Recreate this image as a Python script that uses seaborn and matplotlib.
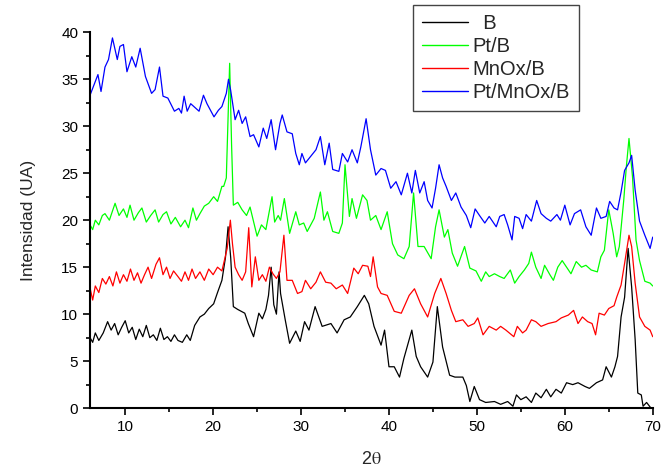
"""
XRD patterns of the B, Pt/B, MnOx/B and Pt/MnOx/B samples
"""

import matplotlib
matplotlib.use("Agg")
import matplotlib.pyplot as plt
from matplotlib.ticker import MultipleLocator
import seaborn as sns
import pandas as pd

# values (2theta, intensity)
b_x = [6.0, 6.3, 6.6, 7.0, 7.5, 8.0, 8.4, 8.8, 9.2, 9.6, 10.0, 10.4, 10.8, 11.2, 11.6,
       12.0, 12.4, 12.8, 13.2, 13.6, 14.0, 14.4, 14.8, 15.2, 15.6, 16.0, 16.5, 17.0,
       17.4, 17.9, 18.5, 19.0, 19.5, 20.06, 20.5, 21.0, 21.4, 21.7, 22.0, 22.3, 22.8,
       23.6, 24.0, 24.6, 25.2, 25.6, 26.0, 26.3, 26.6, 26.9, 27.2, 27.5, 27.67, 28.2,
       28.7, 29.4, 29.9, 30.4, 30.9, 31.6, 32.4, 33.4, 34.1, 34.9, 35.6, 36.4, 37.2,
       37.7, 38.3, 39.1, 39.5, 40.0, 40.6, 41.2, 41.7, 42.6, 43.1, 43.6, 44.4, 45.0,
       45.5, 46.1, 46.9, 47.5, 48.4, 48.8, 49.2, 49.7, 50.3, 51.0, 52.0, 52.7, 53.5,
       54.1, 54.5, 55.0, 55.6, 56.2, 56.7, 57.3, 57.9, 58.4, 59.0, 59.6, 60.2, 60.9,
       61.5, 62.3, 62.8, 63.6, 64.3, 64.7, 65.3, 65.7, 66.0, 66.4, 66.8, 67.2, 67.6,
       68.0, 68.3, 68.7, 68.9, 69.3, 69.8]
b_y = [7.5, 7.0, 8.0, 7.2, 8.0, 9.2, 8.3, 9.0, 7.8, 8.6, 9.3, 8.0, 8.6, 7.3, 8.4,
       7.6, 8.8, 7.5, 7.8, 7.2, 8.5, 7.3, 7.6, 7.1, 7.8, 7.2, 7.0, 7.8,
       7.2, 8.8, 9.7, 10.0, 10.6, 11.1, 12.3, 13.6, 16.0, 19.3, 16.0, 10.8, 10.5,
       10.1, 9.0, 7.6, 10.1, 9.5, 10.5, 12.0, 15.0, 11.0, 10.0, 14.5, 12.2, 9.4,
       6.9, 8.2, 7.1, 9.2, 8.3, 10.8, 8.7, 9.0, 8.0, 9.4, 9.7, 10.8, 12.0,
       11.1, 8.7, 6.7, 8.3, 4.4, 4.4, 3.3, 5.3, 8.3, 5.5, 4.4, 3.3, 4.9,
       10.8, 6.5, 3.5, 3.3, 3.3, 2.4, 0.7, 2.3, 0.9, 0.6, 0.7, 0.4, 0.7,
       0.2, 1.4, 0.9, 1.2, 0.6, 1.6, 1.1, 2.0, 1.2, 2.0, 1.6, 2.7, 2.5,
       2.7, 2.3, 2.1, 2.7, 3.0, 4.4, 3.3, 4.4, 5.5, 9.7, 11.8, 17.0, 12.9,
       7.3, 1.6, 1.4, 0.2, 0.6, 0.0]

ptb_x = [6.0, 6.3, 6.6, 7.0, 7.4, 7.7, 8.2, 8.85, 9.3, 9.8, 10.2, 10.55, 11.0, 11.5,
         11.9, 12.4, 12.9, 13.4, 13.8, 14.3, 14.7, 15.2, 15.7, 16.3, 16.8, 17.2, 17.7,
         18.1, 18.5, 19.0, 19.5, 20.06, 20.5, 21.0, 21.2, 21.5, 21.88, 22.1, 22.3, 22.8,
         23.3, 23.8, 24.2, 25.0, 25.5, 26.0, 26.3, 26.7, 27.0, 27.4, 27.67, 28.1, 28.7,
         29.4, 29.8, 30.3, 30.7, 31.5, 32.2, 32.6, 33.0, 33.6, 34.3, 34.7, 35.0, 35.5,
         35.8, 36.3, 37.0, 37.5, 37.9, 38.5, 39.1, 39.8, 40.4, 41.0, 41.7, 42.3, 42.8,
         43.3, 44.0, 44.8, 45.3, 45.7, 46.3, 46.7, 47.2, 47.8, 48.6, 49.2, 49.9, 50.5,
         51.0, 51.4, 52.0, 52.6, 53.1, 53.8, 54.3, 54.8, 55.4, 55.9, 56.2, 56.7, 57.3,
         57.7, 58.3, 58.7, 59.2, 59.7, 60.2, 60.7, 61.3, 61.9, 62.4, 63.0, 63.7, 64.1,
         64.5, 65.0, 65.5, 65.9, 66.2, 66.7, 67.0, 67.3, 67.7, 68.1, 68.5, 69.1, 69.7,
         70.0]
ptb_y = [19.5, 19.0, 20.0, 19.5, 20.5, 20.7, 20.0, 21.8, 20.5, 21.2, 20.3, 21.6, 20.0, 20.8,
         21.3, 19.8, 20.5, 21.1, 19.8, 20.6, 20.9, 19.6, 20.3, 19.3, 20.0, 19.2, 21.3,
         20.0, 20.7, 21.5, 21.8, 22.5, 22.0, 23.6, 23.6, 24.5, 36.7, 28.0, 21.6, 21.9,
         21.1, 20.5, 21.4, 18.3, 19.5, 19.0, 20.5, 22.5, 19.8, 20.5, 20.0, 22.3, 18.6,
         20.9, 19.5, 19.7, 18.8, 20.2, 23.0, 20.0, 20.9, 18.8, 18.6, 19.7, 25.9, 20.4,
         22.3, 20.2, 22.7, 22.1, 20.0, 20.5, 19.0, 20.9, 17.5, 16.3, 15.9, 17.2, 22.9,
         17.2, 17.2, 15.9, 19.3, 21.1, 18.2, 19.0, 16.5, 15.1, 17.2, 14.9, 14.6, 13.5,
         14.5, 14.0, 14.3, 14.0, 13.8, 14.7, 13.3, 14.0, 14.7, 15.4, 16.6, 15.0, 13.8,
         15.2, 14.2, 13.6, 15.0, 15.7, 15.0, 14.3, 15.6, 15.0, 15.2, 14.7, 14.5, 16.1,
         16.8, 21.1, 18.6, 16.1, 17.2, 22.1, 25.7, 28.7, 24.6, 17.9, 15.7, 13.5, 13.3,
         13.0]

mnox_x = [6.0, 6.3, 6.6, 7.0, 7.4, 7.8, 8.2, 8.6, 9.0, 9.4, 9.8, 10.2, 10.6, 11.0,
          11.4, 11.8, 12.2, 12.6, 13.0, 13.5, 13.9, 14.3, 14.7, 15.1, 15.5, 16.0, 16.4,
          16.8, 17.2, 17.6, 18.0, 18.5, 19.0, 19.5, 20.0, 20.5, 21.0, 21.2, 21.6, 21.96,
          22.2, 22.5, 22.9, 23.3, 23.7, 24.05, 24.4, 24.8, 25.2, 25.6, 26.0, 26.4, 26.8,
          27.2, 27.6, 28.05, 28.4, 29.0, 29.6, 30.1, 30.5, 31.1, 31.7, 32.2, 32.8, 33.4,
          34.0, 34.7, 35.3, 36.0, 36.5, 37.0, 37.6, 37.9, 38.2, 38.7, 39.1, 39.8, 40.6,
          41.4, 42.3, 42.9, 43.6, 44.4, 45.2, 45.9, 46.5, 47.1, 47.6, 48.4, 49.0, 49.7,
          50.1, 50.7, 51.4, 52.2, 52.7, 53.3, 54.2, 54.6, 55.2, 55.6, 56.2, 56.7, 57.3,
          58.1, 59.0, 59.6, 60.4, 61.0, 61.5, 62.0, 62.6, 63.1, 63.5, 63.9, 64.5, 65.0,
          65.6, 65.9, 66.4, 66.8, 67.1, 67.3, 67.6, 68.0, 68.5, 69.1, 69.7, 70.0]
mnox_y = [12.8, 11.5, 13.0, 12.3, 13.8, 13.2, 14.0, 13.0, 14.5, 13.3, 14.2, 13.5, 14.8, 13.6,
          14.4, 13.3, 14.2, 15.0, 13.8, 15.3, 16.0, 14.2, 15.0, 13.8, 14.6, 14.0, 13.5,
          14.5, 13.6, 14.8, 13.8, 14.5, 13.6, 14.8, 14.2, 15.0, 14.6, 15.4, 17.0, 20.0,
          17.5, 15.0, 14.2, 13.6, 14.5, 19.2, 12.9, 16.1, 13.6, 14.2, 13.5, 15.0, 14.3,
          13.8, 14.5, 18.4, 13.6, 13.6, 12.2, 12.4, 13.6, 12.7, 13.4, 14.5, 13.4, 13.3,
          12.7, 13.1, 12.2, 14.9, 14.3, 15.2, 15.1, 14.0, 16.1, 12.9, 12.2, 12.0, 10.3,
          10.1, 12.0, 12.7, 11.1, 9.7, 12.2, 13.8, 12.2, 10.4, 9.2, 9.4, 8.7, 9.0,
          9.6, 7.8, 8.7, 8.3, 8.7, 8.3, 7.6, 8.7, 8.0, 8.3, 9.4, 9.2, 8.7,
          9.0, 9.2, 9.6, 9.9, 10.4, 9.0, 9.7, 9.2, 9.0, 7.8, 10.1, 9.9, 10.6,
          10.9, 11.8, 13.1, 15.4, 17.2, 18.4, 17.2, 13.3, 9.7, 8.7, 8.3, 7.6]

ptmnox_x = [6.0, 6.9, 7.25, 7.7, 8.1, 8.55, 9.1, 9.4, 9.8, 10.2, 10.75, 11.2, 11.7, 12.3,
            12.65, 13.0, 13.4, 13.9, 14.3, 14.85, 15.6, 16.1, 16.4, 16.7, 17.05, 17.45,
            18.4, 18.9, 19.3, 20.1, 20.6, 21.0, 21.5, 21.75, 22.0, 22.5, 22.9, 23.3, 23.7,
            24.2, 24.6, 25.2, 25.7, 26.1, 26.6, 27.1, 27.6, 27.86, 28.4, 29.0, 29.4, 29.8,
            30.1, 30.5, 31.1, 31.7, 32.2, 32.7, 33.2, 33.6, 34.3, 34.7, 35.3, 35.8, 36.4,
            36.8, 37.4, 37.9, 38.5, 39.1, 39.6, 40.2, 40.8, 41.4, 42.1, 42.6, 43.0, 43.5,
            44.0, 44.4, 44.9, 45.3, 45.7, 46.1, 46.5, 47.1, 47.6, 48.2, 48.8, 49.3, 49.8,
            50.3, 50.9, 51.4, 52.2, 52.6, 53.1, 53.5, 54.0, 54.3, 54.8, 55.2, 55.6, 56.2,
            56.8, 57.3, 57.9, 58.4, 59.1, 59.5, 60.0, 60.6, 61.1, 61.8, 62.4, 63.0, 63.6,
            64.1, 64.7, 65.1, 65.6, 66.0, 66.4, 66.8, 67.3, 67.6, 68.0, 68.5, 69.1, 69.7,
            70.0]
ptmnox_y = [33.3, 35.5, 33.7, 36.3, 37.1, 39.4, 37.1, 38.5, 38.7, 35.8, 37.4, 36.3, 38.3, 35.3,
            34.4, 33.5, 33.9, 36.3, 33.2, 33.0, 31.6, 31.9, 31.4, 33.2, 31.6, 32.4,
            31.6, 33.3, 32.4, 31.0, 31.7, 32.1, 33.5, 35.0, 33.8, 30.7, 31.7, 30.3, 31.0,
            28.9, 29.1, 27.8, 29.8, 28.7, 30.7, 27.5, 30.3, 31.2, 29.4, 29.2, 27.1, 25.9,
            27.1, 26.1, 26.8, 27.5, 28.9, 25.9, 28.2, 25.4, 25.2, 27.1, 26.2, 27.5, 26.1,
            27.8, 30.8, 27.5, 24.8, 25.5, 25.3, 23.4, 24.1, 22.7, 25.0, 22.9, 25.3, 22.9,
            24.1, 22.1, 21.3, 23.4, 25.9, 24.5, 23.6, 22.1, 22.9, 21.4, 20.5, 19.2, 21.2,
            20.5, 19.7, 20.4, 19.3, 20.4, 20.6, 19.5, 17.9, 20.4, 20.2, 19.1, 20.6, 19.9,
            22.1, 20.7, 20.2, 19.9, 20.6, 20.0, 21.6, 19.5, 20.7, 21.1, 19.3, 18.4, 21.3,
            20.2, 20.4, 22.0, 21.3, 21.1, 23.0, 25.3, 26.1, 26.9, 23.2, 19.9, 18.4, 17.0,
            18.2]

labels = ["  B", "Pt/B", "MnOx/B", "Pt/MnOx/B"]
colors = ["#000000", "#00ff00", "#ff0000", "#0000ff"]

df = pd.concat([
    pd.DataFrame({"x": b_x, "y": b_y, "muestra": labels[0]}),
    pd.DataFrame({"x": ptb_x, "y": ptb_y, "muestra": labels[1]}),
    pd.DataFrame({"x": mnox_x, "y": mnox_y, "muestra": labels[2]}),
    pd.DataFrame({"x": ptmnox_x, "y": ptmnox_y, "muestra": labels[3]}),
], ignore_index=True)

sns.set_style("ticks")
plt.rcParams["font.family"] = ["Liberation Sans", "DejaVu Sans"]
plt.rcParams["mathtext.fontset"] = "stix"

fig = plt.figure(figsize=(6.62, 4.68), dpi=100)
ax = fig.add_axes([0.136, 0.128, 0.850, 0.803])

sns.lineplot(data=df, x="x", y="y", hue="muestra", hue_order=labels,
             palette=colors, estimator=None, sort=True, linewidth=0.9, ax=ax)

ax.set_xlim(6, 70)
ax.set_ylim(0, 40)
ax.xaxis.set_major_locator(MultipleLocator(10))
ax.xaxis.set_minor_locator(MultipleLocator(5))
ax.yaxis.set_major_locator(MultipleLocator(5))
ax.yaxis.set_minor_locator(MultipleLocator(2.5))
ax.tick_params(which="both", direction="out", width=1.2, color="black",
               labelsize=11, labelcolor="black")
ax.tick_params(which="major", length=5)
ax.tick_params(which="minor", length=3)

sns.despine(ax=ax)
for s in ["left", "bottom"]:
    ax.spines[s].set_linewidth(1.5)
    ax.spines[s].set_color("black")

ax.set_xlabel(r"2$\mathrm{\theta}$", fontsize=13, labelpad=12)
ax.set_ylabel("Intensidad (UA)", fontsize=12.5, labelpad=18)

leg = ax.legend(loc="upper left", bbox_to_anchor=(413 / 662, 1 - 5 / 468),
                bbox_transform=fig.transFigure, borderaxespad=0, fontsize=14.5,
                handlelength=2.3, handletextpad=0.2, labelspacing=0.2,
                borderpad=0.45, fancybox=False, framealpha=1)
leg.get_frame().set_edgecolor("#444444")
leg.get_frame().set_linewidth(1.0)
for line in leg.get_lines():
    line.set_linewidth(1.0)

plt.savefig("out.png", dpi=100)
